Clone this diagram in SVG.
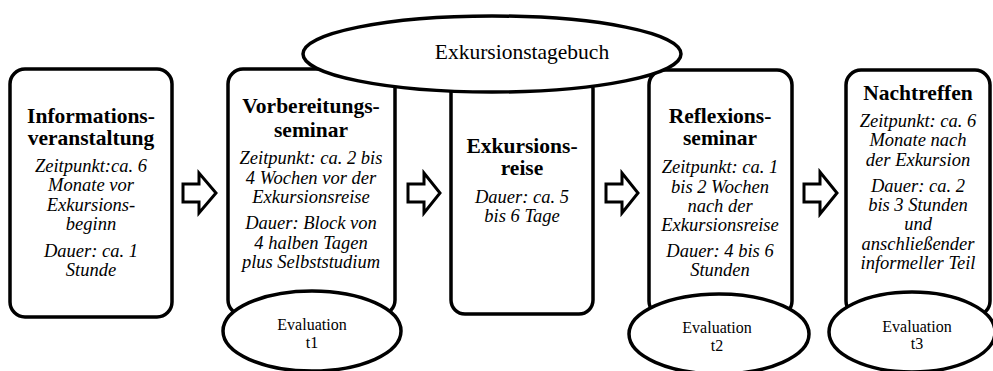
<svg xmlns="http://www.w3.org/2000/svg" width="993" height="371" viewBox="0 0 993 371" font-family="'Liberation Serif', 'Times New Roman', serif">
<style>
.box{fill:#fff;stroke:#000;stroke-width:3.5}
.ell{fill:#fff;stroke:#000;stroke-width:3.5}
.arr{fill:#fff;stroke:#000;stroke-width:3;stroke-linejoin:miter}
.t,.i,.r,.e{font-family:'Liberation Serif','Times New Roman',serif;text-anchor:middle;fill:#000}
.t{font-weight:bold;font-size:21.5px}
.i{font-style:italic;font-size:18.5px}
.r{font-size:21.5px}
.e{font-size:16px}
</style>
<rect width="993" height="371" fill="#fff"/>
<g id="connectors">
<polygon class="arr" points="183,184 199,184 199,173 216,193 199,213 199,202 183,202"/>
<polygon class="arr" points="408,184 424,184 424,173 440,193 424,213 424,202 408,202"/>
<polygon class="arr" points="606,184 622,184 622,173 638,193 622,213 622,202 606,202"/>
<polygon class="arr" points="804,184 820,184 820,172 837,193 820,214 820,202 804,202"/>
</g>
<g id="n1">
<rect class="box" x="10" y="69" width="162" height="248" rx="15"/>
<text class="t" x="91" y="123">Informations-</text>
<text class="t" x="91" y="145">veranstaltung</text>
<text class="i" x="91" y="172">Zeitpunkt:ca. 6</text>
<text class="i" x="91" y="191">Monate vor</text>
<text class="i" x="91" y="211">Exkursions-</text>
<text class="i" x="91" y="230">beginn</text>
<text class="i" x="91" y="257">Dauer: ca. 1</text>
<text class="i" x="91" y="276">Stunde</text>
</g>
<g id="n2">
<rect class="box" x="228" y="69" width="167" height="246" rx="15"/>
<text class="t" x="311" y="113">Vorbereitungs-</text>
<text class="t" x="311" y="137">seminar</text>
<text class="i" x="311" y="164">Zeitpunkt: ca. 2 bis</text>
<text class="i" x="311" y="184">4 Wochen vor der</text>
<text class="i" x="311" y="203">Exkursionsreise</text>
<text class="i" x="311" y="229">Dauer: Block von</text>
<text class="i" x="311" y="249">4 halben Tagen</text>
<text class="i" x="311" y="268">plus Selbststudium</text>
</g>
<g id="n3">
<rect class="box" x="451" y="75" width="142" height="239" rx="14"/>
<text class="t" x="522" y="153">Exkursions-</text>
<text class="t" x="522" y="175">reise</text>
<text class="i" x="522" y="203">Dauer: ca. 5</text>
<text class="i" x="522" y="222">bis 6 Tage</text>
</g>
<g id="n4">
<rect class="box" x="649" y="70" width="143" height="246" rx="15"/>
<text class="t" x="720" y="123">Reflexions-</text>
<text class="t" x="720" y="145">seminar</text>
<text class="i" x="720" y="173">Zeitpunkt: ca. 1</text>
<text class="i" x="720" y="193">bis 2 Wochen</text>
<text class="i" x="720" y="212">nach der</text>
<text class="i" x="720" y="231">Exkursionsreise</text>
<text class="i" x="720" y="257">Dauer: 4 bis 6</text>
<text class="i" x="720" y="276">Stunden</text>
</g>
<g id="n5">
<rect class="box" x="846" y="70" width="144" height="246" rx="15"/>
<text class="t" x="918" y="100">Nachtreffen</text>
<text class="i" x="918" y="127">Zeitpunkt: ca. 6</text>
<text class="i" x="918" y="146">Monate nach</text>
<text class="i" x="918" y="166">der Exkursion</text>
<text class="i" x="918" y="192">Dauer: ca. 2</text>
<text class="i" x="918" y="211">bis 3 Stunden</text>
<text class="i" x="918" y="230">und</text>
<text class="i" x="918" y="250">anschließender</text>
<text class="i" x="918" y="269">informeller Teil</text>
</g>
<g id="tagebuch">
<ellipse class="ell" cx="492" cy="54" rx="189" ry="38"/>
<text class="r" x="522" y="59">Exkursionstagebuch</text>
</g>
<g id="eval1">
<ellipse class="ell" cx="312" cy="331" rx="89" ry="40"/>
<text class="e" x="312" y="330">Evaluation</text>
<text class="e" x="312" y="348">t1</text>
</g>
<g id="eval2">
<ellipse class="ell" cx="719" cy="334" rx="90" ry="40"/>
<text class="e" x="717" y="333">Evaluation</text>
<text class="e" x="717" y="351">t2</text>
</g>
<g id="eval3">
<ellipse class="ell" cx="912" cy="332" rx="83" ry="40"/>
<text class="e" x="917" y="332">Evaluation</text>
<text class="e" x="917" y="349">t3</text>
</g>
</svg>
